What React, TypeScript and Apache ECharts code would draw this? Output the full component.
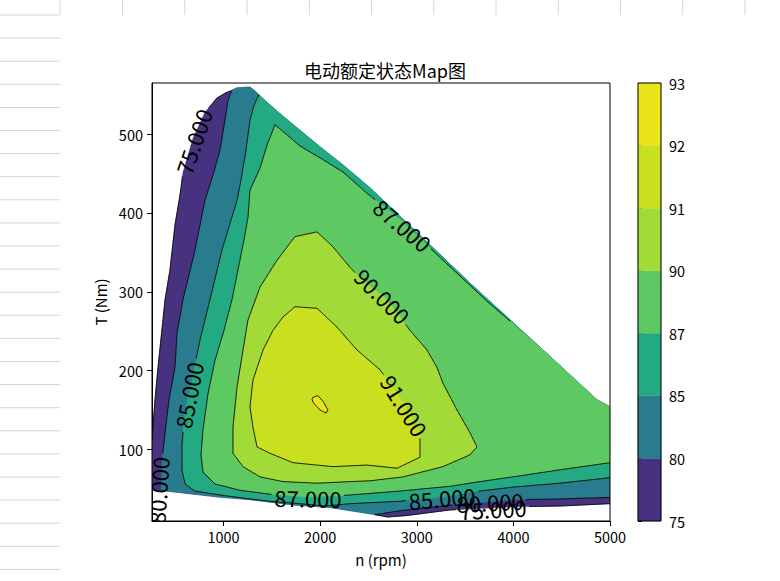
import React, { useEffect, useRef } from "react";
import * as echarts from "echarts";

const TITLE = "电动额定状态Map图";
const X_NAME = "n (rpm)";
const Y_NAME = "T (Nm)";
const levels = [75, 80, 85, 87, 90, 91, 92, 93];
const bandColors = ["#46327e", "#297b8e", "#24aa83", "#5ec962", "#a2da37", "#c8e020", "#eae51a"];
const xTicks = [1000, 2000, 3000, 4000, 5000];
const yTicks = [100, 200, 300, 400, 500];
const X_MIN = 260;
const X_MAX = 5000;
const Y_MIN = 9;
const Y_MAX = 565;

// domain edges [n (rpm), T (Nm)]
const edgeLeft = [[260, 112], [291, 163], [322, 204], [395, 290], [446, 328], [498, 385], [550, 423], [581, 452], [684, 495], [808, 528], [933, 546], [1015, 552], [1067, 555]];
const edgeApex = [[1140, 559], [1274, 560], [1336, 554], [1409, 545]];
const edgeDiagonal = [[1585, 526], [1792, 505], [1999, 484], [2237, 461], [2516, 432], [2826, 396], [3168, 356], [3551, 311], [3934, 268], [4379, 218], [4865, 163], [5000, 154]];
const edgeBottom = [[260, 48], [395, 47], [550, 45], [964, 39], [1274, 36], [1740, 29], [2102, 26], [2413, 20], [2568, 17]];

// contour lines [n, T]
const contour75Bottom = [[2568, 17], [2700, 14], [2900, 16], [3344, 23], [3996, 27], [4483, 28], [5000, 31]];
const contour80Left = [[1088, 556], [1047, 543], [1015, 518], [964, 480], [891, 448], [808, 416], [705, 353], [581, 290], [519, 248], [498, 204], [436, 163], [395, 121], [363, 86], [353, 48]];
const contour80Bottom = [[2568, 17], [2826, 22], [3344, 29], [3996, 36], [4483, 37], [5000, 39]];
const contour85 = [[1367, 550], [1316, 537], [1274, 518], [1233, 480], [1181, 442], [1140, 416], [984, 353], [860, 290], [757, 239], [674, 188], [633, 169], [591, 137], [570, 105], [570, 74], [602, 56], [705, 47], [964, 42], [1274, 37], [1481, 34], [1792, 31], [2050, 28], [2309, 31], [2826, 34], [3002, 37], [3261, 39], [3654, 47], [3996, 52], [4483, 57], [5000, 64]];
const contour87 = [[5000, 83], [4483, 74], [3996, 65], [3654, 59], [3344, 53], [2826, 47], [2309, 42], [1874, 39], [1481, 43], [1171, 48], [912, 56], [788, 71], [767, 93], [788, 125], [840, 171], [912, 213], [1005, 251], [1088, 290], [1150, 328], [1212, 366], [1253, 394], [1274, 429], [1378, 457], [1450, 486], [1533, 512], [1688, 496], [1792, 485], [1999, 470], [2237, 452], [2485, 425], [2858, 389], [3168, 352], [3447, 320], [3727, 288], [3965, 263]];
const contour90 = [[1740, 370], [1968, 376], [2133, 357], [2309, 331], [2464, 311], [2651, 295], [2775, 277], [2930, 251], [3106, 226], [3209, 204], [3271, 184], [3416, 150], [3551, 121], [3623, 103], [3551, 93], [3271, 78], [2858, 65], [2516, 60], [2309, 59], [1968, 57], [1616, 59], [1378, 65], [1202, 78], [1098, 95], [1098, 128], [1140, 179], [1202, 226], [1253, 264], [1378, 306], [1554, 340]];
const contour91 = [[1740, 281], [1968, 279], [2175, 255], [2382, 226], [2620, 201], [2754, 178], [2878, 156], [2961, 137], [3033, 121], [3033, 90], [2796, 76], [2485, 80], [2133, 78], [1719, 83], [1481, 95], [1347, 103], [1305, 128], [1274, 154], [1305, 188], [1409, 226], [1512, 251], [1616, 268]];
const contour92 = [[1926, 166], [1978, 168], [2030, 161], [2081, 150], [2061, 146], [1999, 150], [1937, 158], [1916, 163]];

// inline contour labels: level, anchor [n, T], angle (deg, counter-clockwise)
const labelLevels = [75, 75, 80, 80, 85, 85, 87, 87, 90, 91];
const labelAnchors = [[684, 491], [3789, 25], [318, 48], [3758, 34], [633, 169], [3261, 39], [2858, 385], [1874, 39], [2651, 295], [2878, 156]];
const labelAngles = [71, 3, 86, 3, 79, 5, -40, -1, -45, -58];

const rev = (a: number[][]) => a.slice().reverse();

const regions = [
  [...edgeLeft, ...edgeApex, ...edgeDiagonal, ...rev(contour75Bottom), ...rev(edgeBottom)],
  [...contour80Left, ...edgeBottom.slice(1), ...contour80Bottom, ...rev(edgeDiagonal), ...rev(edgeApex)],
  [...contour85, ...rev(edgeDiagonal)],
  [...contour87, ...edgeDiagonal.slice(-3)],
  contour90,
  contour91,
  contour92,
];

const lines = [
  { level: 75, pts: edgeLeft, closed: false },
  { level: 75, pts: contour75Bottom, closed: false },
  { level: 80, pts: contour80Left, closed: false },
  { level: 80, pts: contour80Bottom, closed: false },
  { level: 85, pts: contour85, closed: false },
  { level: 87, pts: contour87, closed: false },
  { level: 90, pts: contour90, closed: true },
  { level: 91, pts: contour91, closed: true },
  { level: 92, pts: contour92, closed: true },
];

const FONT = "Noto Sans CJK SC";
const LABEL_SIZE = 22;
const HALF_W = LABEL_SIZE * 1.55 + 2;
const HALF_H = LABEL_SIZE * 0.4;

const sheetCols = [60, 122.5, 184.8, 247, 309.3, 371.5, 433.8, 496, 558.3, 620.5, 682.8, 745];
const sheetRows = Array.from({ length: 25 }, (_, k) => 15 + 23.1 * k);

function buildOption() {
  const graphics: any[] = [];
  sheetCols.forEach((x) => graphics.push({ type: "line", z: -1, shape: { x1: x, y1: 0, x2: x, y2: 15 }, style: { stroke: "#d6d6d6", lineWidth: 1 } }));
  sheetRows.forEach((y) => graphics.push({ type: "line", z: -1, shape: { x1: 0, y1: y, x2: 60, y2: y }, style: { stroke: "#d6d6d6", lineWidth: 1 } }));

  return {
    animation: false,
    backgroundColor: "#fff",
    textStyle: { fontFamily: FONT },
    title: {
      text: TITLE,
      left: 380,
      top: 56,
      textAlign: "center",
      textStyle: { fontFamily: FONT, fontSize: 18, fontWeight: "normal", color: "#000" },
    },
    graphic: graphics,
    grid: [
      { left: 152, top: 83, width: 458, height: 438, show: true, borderColor: "#000", borderWidth: 1, backgroundColor: "transparent", z: 10 },
      { left: 638, top: 83, width: 23, height: 438, show: true, borderColor: "#000", borderWidth: 1, backgroundColor: "transparent", z: 10 },
    ],
    xAxis: [
      {
        type: "value", gridIndex: 0, min: X_MIN, max: X_MAX,
        name: X_NAME, nameLocation: "middle", nameGap: 31,
        nameTextStyle: { fontFamily: FONT, fontSize: 15, color: "#000" },
        axisLine: { show: true, lineStyle: { color: "#000", width: 1 } },
        axisTick: { show: true, length: 5, customValues: xTicks, lineStyle: { color: "#000" } },
        axisLabel: { customValues: xTicks, formatter: (v: number) => String(v), color: "#000", fontSize: 14.5, fontFamily: FONT, margin: 8 },
        splitLine: { show: false },
      },
      { type: "value", gridIndex: 1, min: 0, max: 1, show: false },
    ],
    yAxis: [
      {
        type: "value", gridIndex: 0, min: Y_MIN, max: Y_MAX,
        name: Y_NAME, nameLocation: "middle", nameGap: 40, nameRotate: 90,
        nameTextStyle: { fontFamily: FONT, fontSize: 15, color: "#000" },
        axisLine: { show: true, lineStyle: { color: "#000", width: 1 } },
        axisTick: { show: true, length: 5, customValues: yTicks, lineStyle: { color: "#000" } },
        axisLabel: { customValues: yTicks, formatter: (v: number) => String(v), color: "#000", fontSize: 14.5, fontFamily: FONT, margin: 9 },
        splitLine: { show: false },
      },
      {
        type: "value", gridIndex: 1, min: 0, max: levels.length - 1, position: "right",
        axisLine: { show: true, lineStyle: { color: "#000", width: 1 } },
        axisTick: { show: true, length: 4, customValues: levels.map((_, i) => i), lineStyle: { color: "#000" } },
        axisLabel: {
          customValues: levels.map((_, i) => i),
          formatter: (v: number) => String(levels[Math.round(v)]),
          color: "#000", fontSize: 14.5, fontFamily: FONT, margin: 8,
        },
        splitLine: { show: false },
      },
    ],
    series: [
      {
        type: "custom", name: "bands", coordinateSystem: "cartesian2d", xAxisIndex: 0, yAxisIndex: 0,
        clip: true, silent: true, z: 1,
        data: regions.map((_, i) => [i]),
        renderItem: (params: any, api: any) => {
          const pts = regions[params.dataIndex].map((p) => api.coord(p));
          const c = bandColors[params.dataIndex];
          return { type: "polygon", shape: { points: pts }, style: { fill: c, stroke: c, lineWidth: 0.4 } };
        },
      },
      {
        type: "custom", name: "contours", coordinateSystem: "cartesian2d", xAxisIndex: 0, yAxisIndex: 0,
        clip: true, silent: true, z: 2,
        data: lines.map((_, i) => [i]),
        renderItem: (params: any, api: any) => {
          const ln = lines[params.dataIndex];
          const src = ln.closed ? [...ln.pts, ln.pts[0]] : ln.pts;
          const pts = src.map((p) => api.coord(p));
          const masks = labelLevels
            .map((lv, i) => ({ lv, i }))
            .filter((m) => m.lv === ln.level)
            .map((m) => {
              const c = api.coord(labelAnchors[m.i]);
              const a = (labelAngles[m.i] * Math.PI) / 180;
              return { cx: c[0], cy: c[1], cs: Math.cos(a), sn: Math.sin(a) };
            });
          const visible = (x: number, y: number) =>
            masks.every((m) => {
              const dx = x - m.cx;
              const dy = y - m.cy;
              const u = dx * m.cs - dy * m.sn;
              const v = dx * m.sn + dy * m.cs;
              return !(Math.abs(u) < HALF_W && Math.abs(v) < HALF_H);
            });
          const segs: number[][][] = [];
          let cur: number[][] = [];
          for (let i = 0; i < pts.length - 1; i++) {
            const [x0, y0] = pts[i];
            const [x1, y1] = pts[i + 1];
            const len = Math.hypot(x1 - x0, y1 - y0);
            const steps = Math.max(1, Math.ceil(len / 1.5));
            const last = i === pts.length - 2;
            for (let k = 0; k < (last ? steps + 1 : steps); k++) {
              const t = k / steps;
              const x = x0 + (x1 - x0) * t;
              const y = y0 + (y1 - y0) * t;
              if (visible(x, y)) cur.push([x, y]);
              else {
                if (cur.length > 1) segs.push(cur);
                cur = [];
              }
            }
          }
          if (cur.length > 1) segs.push(cur);
          return {
            type: "group",
            children: segs.map((s) => ({ type: "polyline", shape: { points: s }, style: { stroke: "#000", lineWidth: 0.9, fill: null } })),
          };
        },
      },
      {
        type: "custom", name: "contourLabels", coordinateSystem: "cartesian2d", xAxisIndex: 0, yAxisIndex: 0,
        clip: true, silent: true, z: 3,
        data: labelAnchors.map((p) => [p[0], p[1]]),
        renderItem: (params: any, api: any) => {
          const i = params.dataIndex;
          const c = api.coord(labelAnchors[i]);
          return {
            type: "text",
            x: c[0], y: c[1],
            rotation: (labelAngles[i] * Math.PI) / 180,
            style: {
              text: labelLevels[i].toFixed(3),
              fontFamily: FONT, fontSize: LABEL_SIZE, fill: "#000",
              align: "center", verticalAlign: "middle",
            },
          };
        },
      },
      {
        type: "custom", name: "colorbar", coordinateSystem: "cartesian2d", xAxisIndex: 1, yAxisIndex: 1,
        silent: true, z: 1,
        data: bandColors.map((_, i) => [i]),
        renderItem: (params: any, api: any) => {
          const i = params.dataIndex;
          const p0 = api.coord([0, i + 1]);
          const p1 = api.coord([1, i]);
          return {
            type: "rect",
            shape: { x: p0[0], y: p0[1], width: p1[0] - p0[0], height: p1[1] - p0[1] },
            style: { fill: bandColors[i], stroke: bandColors[i], lineWidth: 0.4 },
          };
        },
      },
    ],
  };
}

export default function App() {
  const ref = useRef<HTMLDivElement>(null);
  useEffect(() => {
    const chart = echarts.init(ref.current as HTMLDivElement, null, { renderer: "svg" });
    chart.setOption(buildOption() as any);
    return () => chart.dispose();
  }, []);
  return (
    <div
      ref={ref}
      style={{ position: "fixed", left: 0, top: 0, width: 780, height: 581, background: "#fff" }}
    />
  );
}
